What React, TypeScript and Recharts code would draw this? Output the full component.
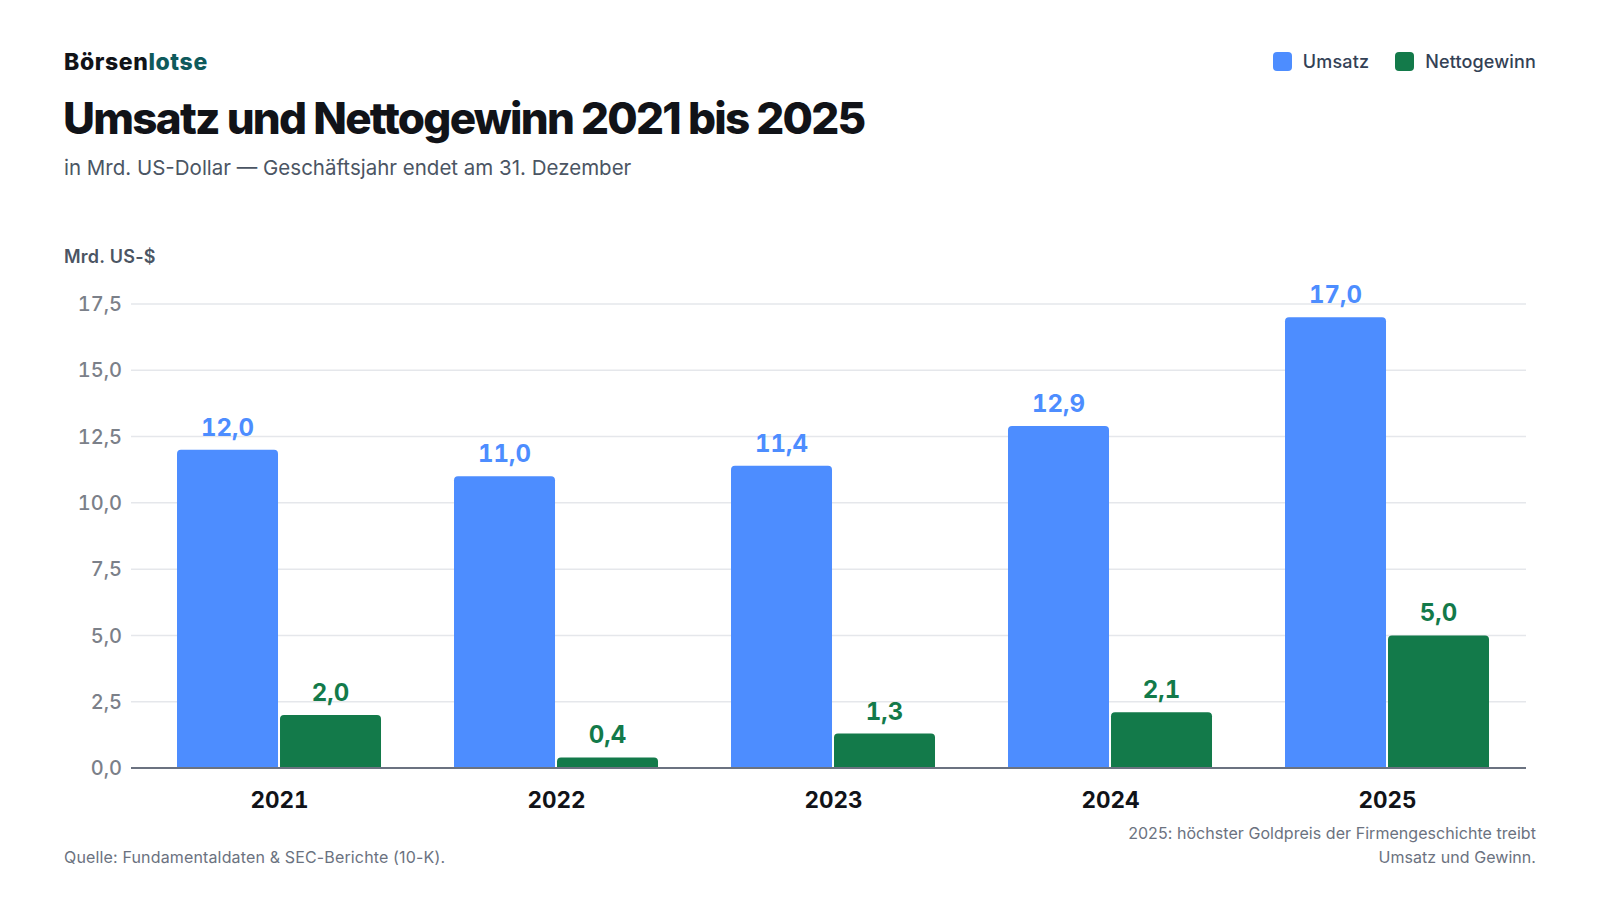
import React from "react";
import { BarChart, Bar, XAxis, YAxis, CartesianGrid, LabelList } from "recharts";

const years = ["2021", "2022", "2023", "2024", "2025"];
const umsatz = [12.0, 11.0, 11.4, 12.9, 17.0];
const nettogewinn = [2.0, 0.4, 1.3, 2.1, 5.0];
const yTicks = [0, 2.5, 5, 7.5, 10, 12.5, 15, 17.5];

const seriesNames = ["Umsatz", "Nettogewinn"];
const seriesColors = ["#4d8dff", "#137a4a"];

const data = years.map((y, i) => ({ year: y, umsatz: umsatz[i], netto: nettogewinn[i] }));

const fmt = (v: number) => v.toFixed(1).replace(".", ",");
const FONT = "Inter, 'Noto Sans', sans-serif";

export default function App() {
  return (
    <div
      style={{
        position: "absolute",
        left: 0,
        top: 0,
        width: 1600,
        height: 900,
        background: "#ffffff",
        fontFamily: FONT,
        overflow: "hidden",
      }}
    >
      <div style={{ position: "absolute", left: 64, top: 51, fontSize: 23, lineHeight: 1, fontWeight: 800, color: "#111318", letterSpacing: 0.6 }}>
        Börsen<span style={{ color: "#0e5a5c" }}>lotse</span>
      </div>
      <div style={{ position: "absolute", left: 63, top: 96, fontSize: 44, lineHeight: 1, fontWeight: 800, color: "#111318", letterSpacing: -1.75, whiteSpace: "nowrap" }}>
        Umsatz und Nettogewinn 2021 bis 2025
      </div>
      <div style={{ position: "absolute", left: 64, top: 158, fontSize: 20.5, lineHeight: 1, fontWeight: 400, color: "#4b5563", whiteSpace: "nowrap" }}>
        in Mrd. US-Dollar — Geschäftsjahr endet am 31. Dezember
      </div>
      <div style={{ position: "absolute", left: 64, top: 248, fontSize: 18, lineHeight: 1, fontWeight: 600, color: "#4b5563", letterSpacing: 0.25, whiteSpace: "nowrap" }}>
        Mrd. US-$
      </div>

      <div style={{ position: "absolute", right: 64, top: 52, display: "flex", alignItems: "center", gap: 26, fontSize: 18, lineHeight: 1, fontWeight: 500, color: "#334155", letterSpacing: 0.15 }}>
        {seriesNames.map((n, i) => (
          <div key={n} style={{ display: "flex", alignItems: "center", gap: 11 }}>
            <div style={{ width: 19, height: 19, borderRadius: 4, background: seriesColors[i] }} />
            <span>{n}</span>
          </div>
        ))}
      </div>

      <div style={{ position: "absolute", left: 0, top: 0, fontVariantNumeric: "tabular-nums" }}>
        <BarChart
          width={1600}
          height={900}
          data={data}
          margin={{ top: 304, right: 74, bottom: 72, left: 0 }}
          barCategoryGap="13%"
          barGap={2}
        >
          <CartesianGrid horizontal vertical={false} stroke="#e5e7eb" strokeWidth={1.5} />
          <YAxis
            width={131}
            domain={[0, 17.5]}
            ticks={yTicks}
            interval={0}
            axisLine={false}
            tickLine={false}
            tickSize={0}
            tickMargin={9}
            tickFormatter={fmt}
            tick={{ fill: "#7b8089", fontSize: 20, fontWeight: 500, fontFamily: FONT }}
          />
          <XAxis
            dataKey="year"
            height={60}
            padding={{ left: 10, right: 0 }}
            axisLine={{ stroke: "#6b7280", strokeWidth: 2 }}
            tickLine={false}
            tickSize={0}
            tickMargin={24}
            tick={{ fill: "#111318", fontSize: 22.5, fontWeight: 700, fontFamily: FONT }}
          />
          <Bar dataKey="umsatz" name={seriesNames[0]} fill={seriesColors[0]} radius={[4, 4, 0, 0]} isAnimationActive={false}>
            <LabelList dataKey="umsatz" position="top" offset={14} formatter={(v: any) => fmt(Number(v))} fill={seriesColors[0]} style={{ fontSize: 24, fontWeight: 700, fontFamily: FONT }} />
          </Bar>
          <Bar dataKey="netto" name={seriesNames[1]} fill={seriesColors[1]} radius={[4, 4, 0, 0]} isAnimationActive={false}>
            <LabelList dataKey="netto" position="top" offset={14} formatter={(v: any) => fmt(Number(v))} fill={seriesColors[1]} style={{ fontSize: 24, fontWeight: 700, fontFamily: FONT }} />
          </Bar>
        </BarChart>
      </div>

      <div style={{ position: "absolute", left: 64, top: 849, fontSize: 16, lineHeight: 1, color: "#6b7280", letterSpacing: 0.15, whiteSpace: "nowrap" }}>
        Quelle: Fundamentaldaten &amp; SEC-Berichte (10-K).
      </div>
      <div style={{ position: "absolute", right: 64, top: 821, fontSize: 16, lineHeight: "24px", color: "#6b7280", letterSpacing: 0.05, textAlign: "right", whiteSpace: "nowrap" }}>
        2025: höchster Goldpreis der Firmengeschichte treibt
        <br />
        Umsatz und Gewinn.
      </div>
    </div>
  );
}
